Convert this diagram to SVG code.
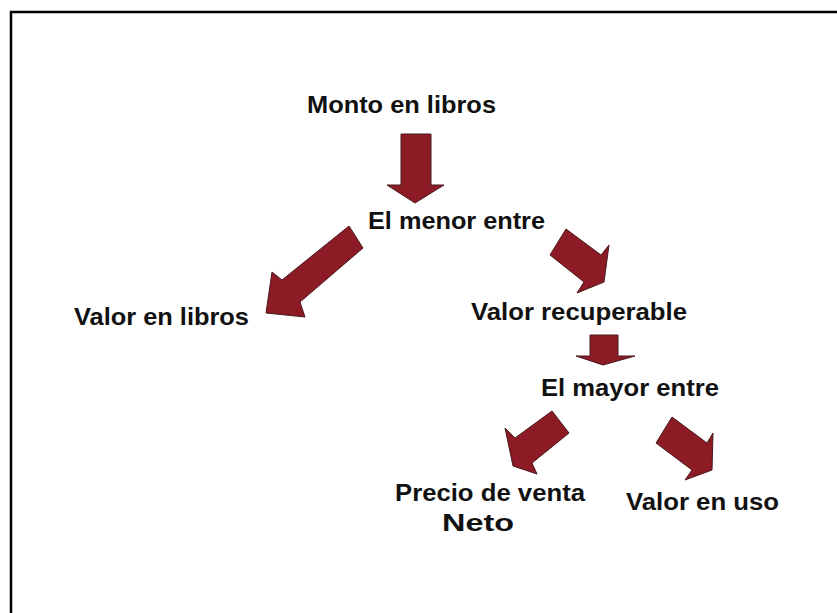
<svg xmlns="http://www.w3.org/2000/svg" width="837" height="613" viewBox="0 0 837 613">
<style>
.t{font-family:"Liberation Sans",Arial,sans-serif;font-weight:bold;font-size:24px;fill:#111;}
.a{fill:#8c1b26;stroke:#4a1a1c;stroke-width:1;stroke-linejoin:miter;}
</style>
<rect width="837" height="613" fill="#fff"/>
<path d="M11,613 V12 H837" fill="none" stroke="#000" stroke-width="2.5"/>
<g id="connectors">
<polygon class="a" points="401,134 431,134 431,185 444,185 415,203 387,185 401,185"/>
<polygon class="a" points="349,226 363,248 300,302 305,317 266,313 272,272 282,280"/>
<polygon class="a" points="566,229 550,255 584,282 577,293 604,282 609,245 601,255"/>
<polygon class="a" points="590,335 618,335 618,356 635,356 603,365 576,356 590,356"/>
<polygon class="a" points="552,411 569,433 532,463 537,474 513,466 505,428 515,438"/>
<polygon class="a" points="672,417 656,443 692,470 685,480 712,470 713,433 707,443"/>
</g>
<g id="n1"><text class="t" x="307" y="113" textLength="189" lengthAdjust="spacingAndGlyphs">Monto en libros</text></g>
<g id="n2"><text class="t" x="368" y="229" textLength="177" lengthAdjust="spacingAndGlyphs">El menor entre</text></g>
<g id="n3"><text class="t" x="74" y="325" textLength="175" lengthAdjust="spacingAndGlyphs">Valor en libros</text></g>
<g id="n4"><text class="t" x="471" y="320" textLength="216" lengthAdjust="spacingAndGlyphs">Valor recuperable</text></g>
<g id="n5"><text class="t" x="541" y="396" textLength="178" lengthAdjust="spacingAndGlyphs">El mayor entre</text></g>
<g id="n6"><text class="t" x="395" y="501" textLength="190" lengthAdjust="spacingAndGlyphs">Precio de venta</text><text class="t" x="442" y="531" textLength="72" lengthAdjust="spacingAndGlyphs">Neto</text></g>
<g id="n7"><text class="t" x="626" y="510" textLength="153" lengthAdjust="spacingAndGlyphs">Valor en uso</text></g>
</svg>
